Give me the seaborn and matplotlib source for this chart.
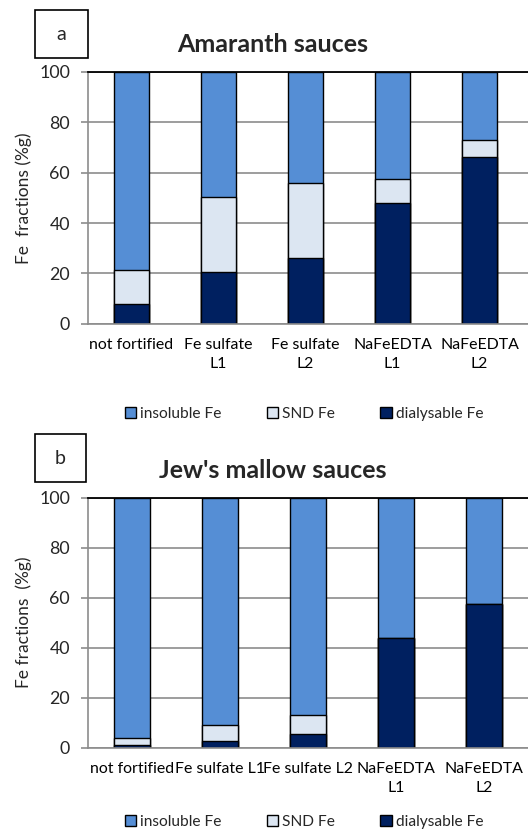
import numpy as np
import pandas as pd
import matplotlib
matplotlib.use("Agg")
import matplotlib.pyplot as plt
from matplotlib.patches import Rectangle, Patch
import seaborn as sns

# data (Fe fractions, %g)
categories_a = ["not fortified", "Fe sulfate\nL1", "Fe sulfate\nL2", "NaFeEDTA\nL1", "NaFeEDTA\nL2"]
dialysable_a = [8.0, 20.4, 26.2, 48.1, 66.3]
snd_a = [13.2, 29.8, 29.7, 9.4, 6.7]

categories_b = ["not fortified", "Fe sulfate L1", "Fe sulfate L2", "NaFeEDTA\nL1", "NaFeEDTA\nL2"]
dialysable_b = [1.1, 2.8, 5.6, 43.9, 57.6]
snd_b = [2.9, 6.3, 7.6, 0.0, 0.0]

series_names = ["insoluble Fe", "SND Fe", "dialysable Fe"]
colors = {"insoluble Fe": "#558ED5", "SND Fe": "#DCE6F2", "dialysable Fe": "#002060"}
yticks = [0, 20, 40, 60, 80, 100]

sns.set_theme(style="white")
plt.rcParams["font.family"] = ["Lato", "DejaVu Sans"]

GRID = "#8c8c8c"
W, H = 528, 830
fig = plt.figure(figsize=(W / 100, H / 100), dpi=100)


def px_axes(left, top, right, bottom):
    return fig.add_axes([left / W, 1 - bottom / H, (right - left) / W, (bottom - top) / H])


def draw_panel(ax, cats, dial, snd, title, letter, box, ylabel, xmax):
    dial = np.array(dial)
    snd = np.array(snd)
    insol = 100 - dial - snd
    df = pd.DataFrame({"cat": cats, "dial": dial, "snd_top": dial + snd,
                       "total": dial + snd + insol})
    # stacked: draw cumulative heights from tallest to shortest
    for col, name in [("total", "insoluble Fe"), ("snd_top", "SND Fe"), ("dial", "dialysable Fe")]:
        sns.barplot(data=df, x="cat", y=col, order=cats, color=colors[name],
                    width=0.4, edgecolor="black", linewidth=1.0, saturation=1, ax=ax)

    ax.set_ylim(0, 100)
    ax.set_xlim(-0.5, xmax)
    ax.set_yticks(yticks)
    ax.yaxis.grid(True, color=GRID, linewidth=1.2)
    ax.set_axisbelow(True)
    ax.set_xticks(range(len(cats)))
    ax.set_xticklabels(cats, fontsize=11.4, color="black", linespacing=1.5)
    ax.set_xticks(np.arange(-0.5, len(cats), 1.0), minor=True)
    ax.tick_params(axis="x", which="major", length=0, pad=10)
    ax.tick_params(axis="x", which="minor", length=5, width=1.2, color=GRID, direction="out")
    ax.tick_params(axis="y", length=5, width=1.2, color=GRID, direction="out",
                   labelsize=12.8, pad=8, left=True)
    ax.set_xlabel("")
    ax.set_ylabel(ylabel, fontsize=12.5)
    ax.yaxis.set_label_coords(-0.128, 0.5)
    for s in ["left", "bottom"]:
        ax.spines[s].set_color(GRID)
        ax.spines[s].set_linewidth(1.2)
    ax.spines["top"].set_color("black")
    ax.spines["top"].set_linewidth(1.3)
    ax.spines["right"].set_visible(False)

    fig.text(273 / W, 1 - title[1] / H, title[0], ha="center", va="center",
             fontsize=18, fontweight="bold")
    l, t, r, b = box
    fig.patches.append(Rectangle((l / W, 1 - b / H), (r - l) / W, (b - t) / H,
                                 transform=fig.transFigure, fill=False,
                                 edgecolor="black", linewidth=1.2))
    fig.text((l + r) / 2 / W, 1 - (t + b) / 2 / H, letter, ha="center", va="center", fontsize=14)


handles = [Patch(facecolor=colors[n], edgecolor="black", linewidth=1.0, label=n) for n in series_names]

ax_a = px_axes(88, 72, 528, 323.7)
draw_panel(ax_a, categories_a, dialysable_a, snd_a, ("Amaranth sauces", 45), "a",
           (35, 10, 88, 58), "Fe  fractions (%g)", 4.557)
fig.legend(handles=handles, ncol=3, loc="center", bbox_to_anchor=(304 / W, 1 - 414 / H),
           frameon=False, fontsize=11.2, handlelength=0.75, handleheight=0.75,
           handletextpad=0.25, columnspacing=2.9)

ax_b = px_axes(88, 497.7, 528, 747.7)
draw_panel(ax_b, categories_b, dialysable_b, snd_b, ("Jew's mallow sauces", 470), "b",
           (35, 434, 86, 482), "Fe fractions  (%g)", 4.44)
fig.legend(handles=handles, ncol=3, loc="center", bbox_to_anchor=(304 / W, 1 - 822 / H),
           frameon=False, fontsize=11.2, handlelength=0.75, handleheight=0.75,
           handletextpad=0.25, columnspacing=2.9)

fig.savefig("out.png", dpi=100)
